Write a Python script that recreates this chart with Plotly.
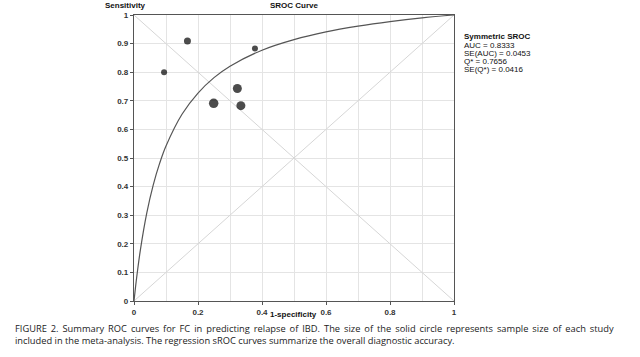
import plotly.graph_objects as go

# Study points (1-specificity, sensitivity) and marker diameters (px ~ sample size)
study_fpr = [0.094, 0.167, 0.378, 0.323, 0.249, 0.334]
study_sens = [0.800, 0.909, 0.883, 0.743, 0.691, 0.683]
study_size = [6, 7, 6, 9, 9.5, 9]

# Symmetric SROC curve
curve_fpr = [0, 0.005, 0.01, 0.02, 0.04, 0.06, 0.08, 0.10, 0.15, 0.20, 0.25, 0.30, 0.40, 0.50, 0.60, 0.70, 0.80, 0.90, 1.0]
curve_sens = [0, 0.051, 0.097, 0.179, 0.308, 0.405, 0.481, 0.542, 0.653, 0.727, 0.781, 0.821, 0.877, 0.914, 0.941, 0.961, 0.977, 0.990, 1.0]

stats_title = "Symmetric SROC"
stats_lines = ["AUC = 0.8333", "SE(AUC) = 0.0453", "Q* = 0.7656", "SE(Q*) = 0.0416"]
x_ticks = [0, 0.2, 0.4, 0.6, 0.8, 1]
x_tick_text = ["0", "0.2", "0.4", "0.6", "0.8", "1"]
y_ticks = [0, 0.1, 0.2, 0.3, 0.4, 0.5, 0.6, 0.7, 0.8, 0.9, 1]
y_tick_text = ["0", "0.1", "0.2", "0.3", "0.4", "0.5", "0.6", "0.7", "0.8", "0.9", "1"]

caption1 = ("FIGURE 2. Summary ROC curves for FC in predicting relapse of IBD. The size of the solid circle "
            "represents sample size of each study")
caption2 = "included in the meta-analysis. The regression sROC curves summarize the overall diagnostic accuracy."

# plot area geometry (pixels)
W, H = 640, 357
L, R, T, B = 134, 186, 15, 56
PW, PH = W - L - R, H - T - B


def px_x(px):
    return (px - L) / PW


def px_y(py):
    return (H - B - py) / PH


fig = go.Figure()
fig.add_trace(go.Scatter(x=[0, 1], y=[0, 1], mode="lines", line=dict(color="#d6d6d6", width=1),
                         hoverinfo="skip", showlegend=False))
fig.add_trace(go.Scatter(x=[0, 1], y=[1, 0], mode="lines", line=dict(color="#d6d6d6", width=1),
                         hoverinfo="skip", showlegend=False))
fig.add_trace(go.Scatter(x=curve_fpr, y=curve_sens, mode="lines",
                         line=dict(color="#555555", width=1.2, shape="spline"), showlegend=False))
fig.add_trace(go.Scatter(x=study_fpr, y=study_sens, mode="markers",
                         marker=dict(color="black", size=study_size, line=dict(width=0)), showlegend=False))

axis_common = dict(range=[0, 1], showgrid=True, gridcolor="#e4e4e4", gridwidth=1,
                   showline=True, linecolor="#555555", linewidth=1.3, mirror=True,
                   ticks="outside", ticklen=3, tickcolor="#555555", zeroline=False, automargin=False,
                   tickfont=dict(family="Liberation Sans", size=8, color="#333"))

fig.update_xaxes(**axis_common, tickvals=x_ticks, ticktext=["<b>%s</b>" % t for t in x_tick_text],
                 minor=dict(showgrid=True, gridcolor="#e4e4e4", dtick=0.1, tick0=0))
fig.update_yaxes(**axis_common, tickvals=y_ticks, ticktext=["<b>%s</b>" % t for t in y_tick_text])

fig.update_layout(
    width=W, height=H,
    margin=dict(l=L, r=R, t=T, b=B),
    paper_bgcolor="white", plot_bgcolor="white",
    font=dict(family="Liberation Sans", size=8, color="#111"),
)

fig.add_annotation(text="<b>SROC Curve</b>", x=0.5, y=1.0, xref="paper", yref="paper", yshift=3,
                   xanchor="center", yanchor="bottom", showarrow=False, font=dict(size=8))
fig.add_annotation(text="<b>Sensitivity</b>", x=px_x(103), y=1.0, xref="paper", yref="paper", yshift=3,
                   xanchor="left", yanchor="bottom", showarrow=False, font=dict(size=8))
fig.add_annotation(text="<b>1-specificity</b>", x=px_x(293), y=0, xref="paper", yref="paper", yshift=-7,
                   xanchor="center", yanchor="top", showarrow=False, font=dict(size=8))

# statistics block
fig.add_annotation(text="<b>%s</b>" % stats_title, x=px_x(462), y=px_y(37), xref="paper", yref="paper",
                   xanchor="left", yanchor="middle", showarrow=False, font=dict(size=8))
for i, s in enumerate(stats_lines):
    fig.add_annotation(text=s, x=px_x(462), y=px_y(45 + 8 * i), xref="paper", yref="paper",
                       xanchor="left", yanchor="middle", showarrow=False, font=dict(size=8))

# caption; line 1 is justified in the reference, so widen its word gaps with thin spaces
cap_font = dict(family="Open Sans", size=9.3, color="#222")
fig.add_annotation(text=caption1.replace(" ", " \u2009") + "<br>" + caption2,
                   x=px_x(13), y=px_y(334.5), xref="paper", yref="paper", align="left",
                   xanchor="left", yanchor="middle", showarrow=False, font=cap_font)

fig.write_html("out.html", config={"displayModeBar": False},
               post_script="document.body.style.margin='0';")
